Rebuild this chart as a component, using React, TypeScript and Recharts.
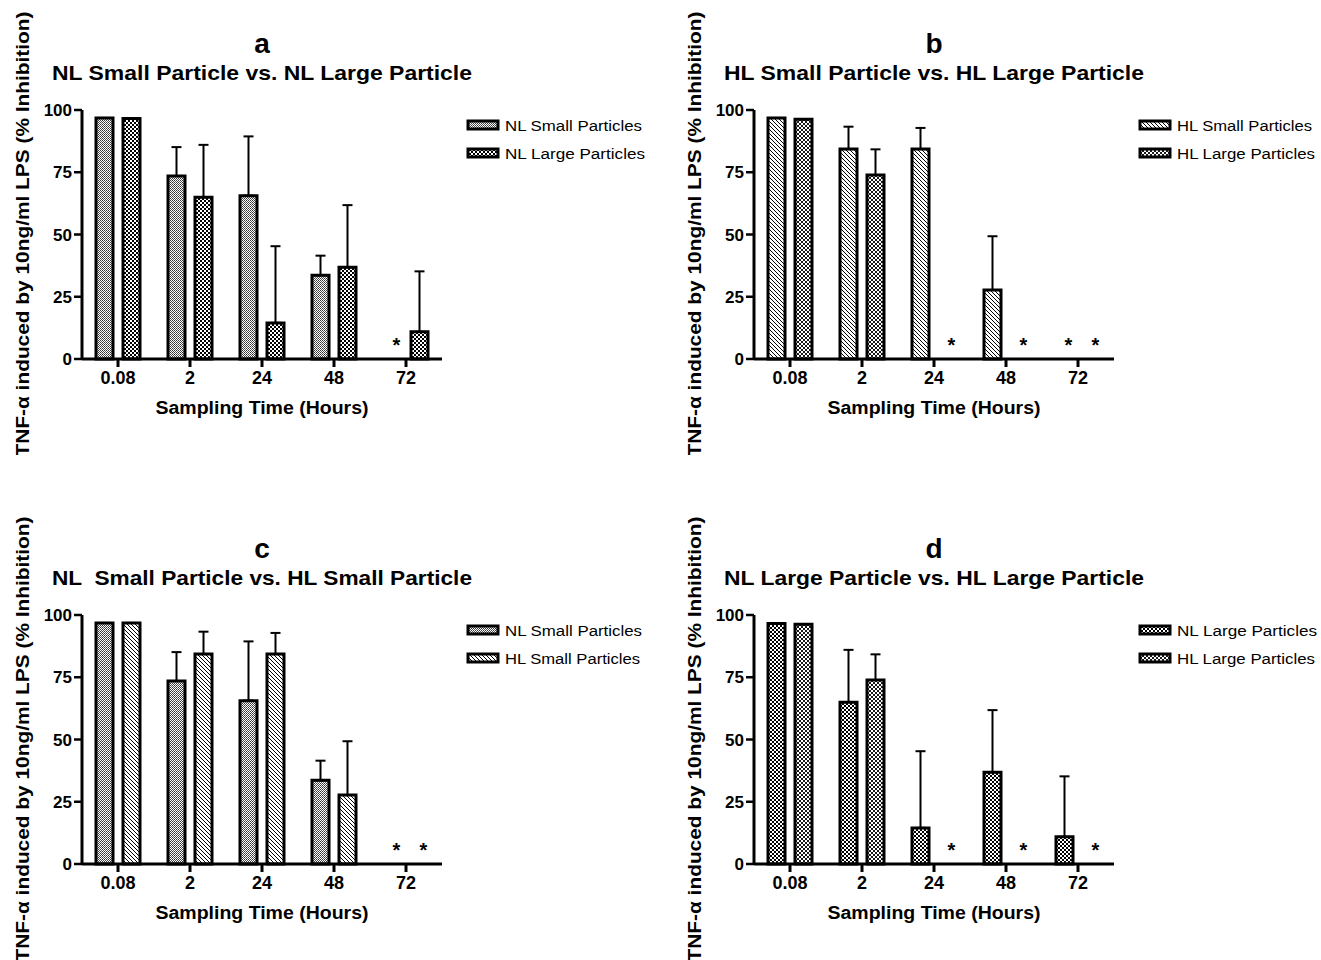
import React from 'react';
import { BarChart, Bar, XAxis, YAxis, ErrorBar, Legend, Rectangle } from 'recharts';

const categories = ['0.08', '2', '24', '48', '72'];
const nlSmall = [96.8, 73.5, 65.6, 33.6, 0];
const nlSmallErr = [0, 11.6, 23.8, 7.9, 0];
const nlLarge = [96.6, 65.0, 14.5, 36.8, 10.9];
const nlLargeErr = [0, 21.0, 30.8, 25.0, 24.3];
const hlSmall = [96.8, 84.3, 84.3, 27.7, 0];
const hlSmallErr = [0, 9.0, 8.5, 21.6, 0];
const hlLarge = [96.3, 73.9, 0, 0, 0];
const hlLargeErr = [0, 10.3, 0, 0, 0];
const yTicks = [0, 25, 50, 75, 100];

const panelLetters = ['a', 'b', 'c', 'd'];
const panelTitles = [
  'NL Small Particle vs. NL Large Particle',
  'HL Small Particle vs. HL Large Particle',
  'NL  Small Particle vs. HL Small Particle',
  'NL Large Particle vs. HL Large Particle',
];
const yAxisTitle = 'TNF-\u03b1 induced by 10ng/ml LPS (% Inhibition)';
const xAxisTitle = 'Sampling Time (Hours)';

const FONT = '"Liberation Sans", Arial, Helvetica, sans-serif';
const PW = 649;
const PH = 455;

type Series = { name: string; values: number[]; errors: number[]; pattern: string; legendLen: number };

const S_NL_SMALL: Series = { name: 'NL Small Particles', values: nlSmall, errors: nlSmallErr, pattern: 'pNlSmall', legendLen: 137 };
const S_NL_LARGE: Series = { name: 'NL Large Particles', values: nlLarge, errors: nlLargeErr, pattern: 'pNlLarge', legendLen: 140 };
const S_HL_SMALL: Series = { name: 'HL Small Particles', values: hlSmall, errors: hlSmallErr, pattern: 'pHlSmall', legendLen: 135 };
const S_HL_LARGE: Series = { name: 'HL Large Particles', values: hlLarge, errors: hlLargeErr, pattern: 'pHlLarge', legendLen: 138 };

// Bar shape: normal rectangle, or a significance asterisk for zero-valued bars
const BarWithStar = (props: any) => {
  const { x, y, width, height } = props;
  const isZero = !height || Number(props.value) === 0;
  if (isZero) {
    return (
      <text x={Number(x) + Number(width) / 2 + 4} y={Number(y) + Number(height || 0) - 7} textAnchor="middle"
        fontFamily={FONT} fontSize={20} fontWeight="bold" fill="#000">*</text>
    );
  }
  return <Rectangle {...props} />;
};

function LegendBox({ items }: { items: Series[] }) {
  return (
    <svg width={200} height={56} style={{ display: 'block' }}>
      {items.map((s, i) => {
        const cy = 12 + i * 28;
        return (
          <g key={s.name}>
            <rect x={3} y={cy - 4} width={30} height={8} fill={`url(#${s.pattern})`} stroke="#000" strokeWidth={3} />
            <text x={40} y={cy + 5.5} fontFamily={FONT} fontSize={15.5} fill="#000"
              textLength={s.legendLen} lengthAdjust="spacingAndGlyphs">{s.name}</text>
          </g>
        );
      })}
    </svg>
  );
}

function Panel({ left, top, idx, s1, s2 }: { left: number; top: number; idx: number; s1: Series; s2: Series }) {
  const data = categories.map((c, i) => ({
    time: c,
    v1: s1.values[i],
    e1: [0, s1.errors[i]],
    v2: s2.values[i],
    e2: [0, s2.errors[i]],
  }));
  const axisStroke = { stroke: '#000', strokeWidth: 3 };
  return (
    <div style={{ position: 'absolute', left, top, width: PW, height: PH }}>
      <BarChart width={PW} height={PH} data={data}
        margin={{ top: 110, right: 207, bottom: 56, left: 32 }}
        barSize={17} barGap={10}>
        <XAxis dataKey="time" interval={0} height={40} tickSize={8} tickMargin={4}
          axisLine={axisStroke} tickLine={axisStroke}
          tick={{ fill: '#000', fontSize: 18, fontWeight: 'bold', fontFamily: FONT }} />
        <YAxis domain={[0, 100]} ticks={yTicks} width={50} tickSize={8} tickMargin={2}
          axisLine={axisStroke} tickLine={{ stroke: '#000', strokeWidth: 2.5 }}
          tick={{ fill: '#000', fontSize: 17, fontWeight: 'bold', fontFamily: FONT }} />
        <Legend layout="vertical" align="center" verticalAlign="middle"
          wrapperStyle={{ left: 465, top: 113, width: 200, height: 56 }}
          content={() => <LegendBox items={[s1, s2]} />} />
        <Bar dataKey="v1" name={s1.name} fill={`url(#${s1.pattern})`} stroke="#000" strokeWidth={3}
          shape={BarWithStar} isAnimationActive={false}>
          <ErrorBar dataKey="e1" direction="y" width={5} stroke="#000" strokeWidth={2} isAnimationActive={false} />
        </Bar>
        <Bar dataKey="v2" name={s2.name} fill={`url(#${s2.pattern})`} stroke="#000" strokeWidth={3}
          shape={BarWithStar} isAnimationActive={false}>
          <ErrorBar dataKey="e2" direction="y" width={5} stroke="#000" strokeWidth={2} isAnimationActive={false} />
        </Bar>
      </BarChart>
      <svg width={PW} height={PH} style={{ position: 'absolute', left: 0, top: 0, pointerEvents: 'none' }}>
        <text x={262} y={53} textAnchor="middle" fontFamily={FONT} fontSize={28} fontWeight="bold" fill="#000">{panelLetters[idx]}</text>
        <text x={262} y={80} textAnchor="middle" fontFamily={FONT} fontSize={21} fontWeight="bold" fill="#000"
          textLength={420} lengthAdjust="spacingAndGlyphs" style={{ whiteSpace: 'pre' }}>{panelTitles[idx]}</text>
        <text transform="translate(29,234) rotate(-90)" textAnchor="middle" fontFamily={FONT} fontSize={17.5} fontWeight="bold" fill="#000"
          textLength={445} lengthAdjust="spacingAndGlyphs">{yAxisTitle}</text>
        <text x={262} y={414} textAnchor="middle" fontFamily={FONT} fontSize={18} fontWeight="bold" fill="#000"
          textLength={213} lengthAdjust="spacingAndGlyphs">{xAxisTitle}</text>
      </svg>
    </div>
  );
}

export default function App() {
  return (
    <div style={{ position: 'absolute', left: 0, top: 0, width: 1321, height: 960, background: '#fff', overflow: 'hidden' }}>
      <svg width={0} height={0} style={{ position: 'absolute' }}>
        <defs>
          <pattern id="pNlSmall" patternUnits="userSpaceOnUse" width={2} height={2}>
            <rect width={2} height={2} fill="#fff" />
            <rect x={0} y={0} width={1} height={1} fill="#333" />
            <rect x={1} y={1} width={1} height={1} fill="#555" />
          </pattern>
          <pattern id="pNlLarge" patternUnits="userSpaceOnUse" width={4} height={4}>
            <rect width={4} height={4} fill="#fff" />
            <rect x={0} y={0} width={2} height={2} fill="#000" />
            <rect x={2} y={2} width={2} height={2} fill="#000" />
          </pattern>
          <pattern id="pHlSmall" patternUnits="userSpaceOnUse" width={4} height={4}>
            <rect width={4} height={4} fill="#fff" />
            <path d="M-1,-1 L5,5 M-1,3 L1,5 M3,-1 L5,1" stroke="#000" strokeWidth={1} />
          </pattern>
          <pattern id="pHlLarge" patternUnits="userSpaceOnUse" width={4} height={4}>
            <rect width={4} height={4} fill="#fff" />
            <path d="M-1,-1 L5,5 M-1,3 L1,5 M3,-1 L5,1 M-1,5 L5,-1 M-1,1 L1,-1 M3,5 L5,3" stroke="#000" strokeWidth={0.9} />
          </pattern>
        </defs>
      </svg>
      <Panel left={0} top={0} idx={0} s1={S_NL_SMALL} s2={S_NL_LARGE} />
      <Panel left={672} top={0} idx={1} s1={S_HL_SMALL} s2={S_HL_LARGE} />
      <Panel left={0} top={505} idx={2} s1={S_NL_SMALL} s2={S_HL_SMALL} />
      <Panel left={672} top={505} idx={3} s1={S_NL_LARGE} s2={S_HL_LARGE} />
    </div>
  );
}
